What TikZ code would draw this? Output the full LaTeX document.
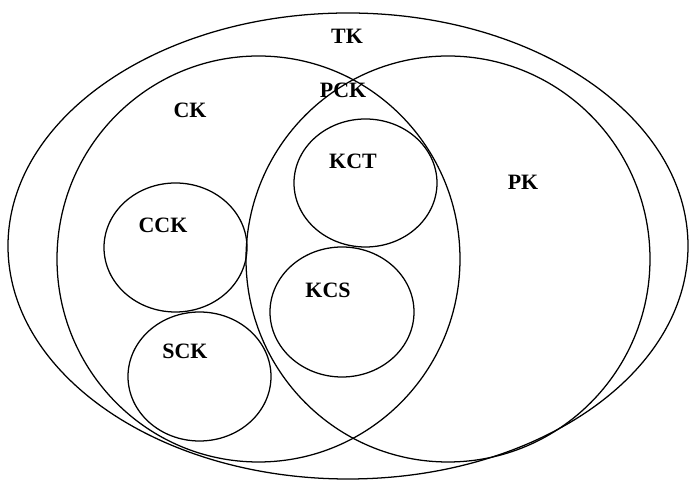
\documentclass[tikz,border=0pt]{standalone}
\usepackage{fontspec}
\setmainfont{Liberation Serif}
\def\s{0.025}
\def\punkt#1#2{({(#1)*\s},{(#2)*\s})}

\begin{document}
\begin{tikzpicture}[line width=0.9pt,
  lbl/.style={inner sep=0pt,font=\fontsize{15.6}{18}\selectfont\bfseries}]
\useasboundingbox \punkt{0}{0} rectangle \punkt{689}{481};
% big sets
\draw \punkt{348}{235} ellipse [x radius=340*\s, y radius=233*\s];
\draw \punkt{258.5}{222} ellipse [x radius=201.5*\s, y radius=203*\s];
\draw \punkt{448}{222} ellipse [x radius=202*\s, y radius=203*\s];
% small sets
\draw \punkt{365.5}{298} ellipse [x radius=71.5*\s, y radius=64*\s];
\draw \punkt{175.5}{233.5} ellipse [x radius=71.5*\s, y radius=64.5*\s];
\draw \punkt{342}{169} ellipse [x radius=72*\s, y radius=65*\s];
\draw \punkt{199.5}{104.5} ellipse [x radius=71.5*\s, y radius=64.5*\s];
% labels
\node[lbl] (tk) at \punkt{347}{445} {TK};
\node[lbl] (pck) at \punkt{343}{391} {PCK};
\node[lbl] (ck) at \punkt{190}{371} {CK};
\node[lbl] (kct) at \punkt{353}{320} {KCT};
\node[lbl] (pk) at \punkt{523}{299} {PK};
\node[lbl] (cck) at \punkt{163}{256} {CCK};
\node[lbl] (kcs) at \punkt{328}{191} {KCS};
\node[lbl] (sck) at \punkt{185}{130} {SCK};
\end{tikzpicture}
\end{document}
